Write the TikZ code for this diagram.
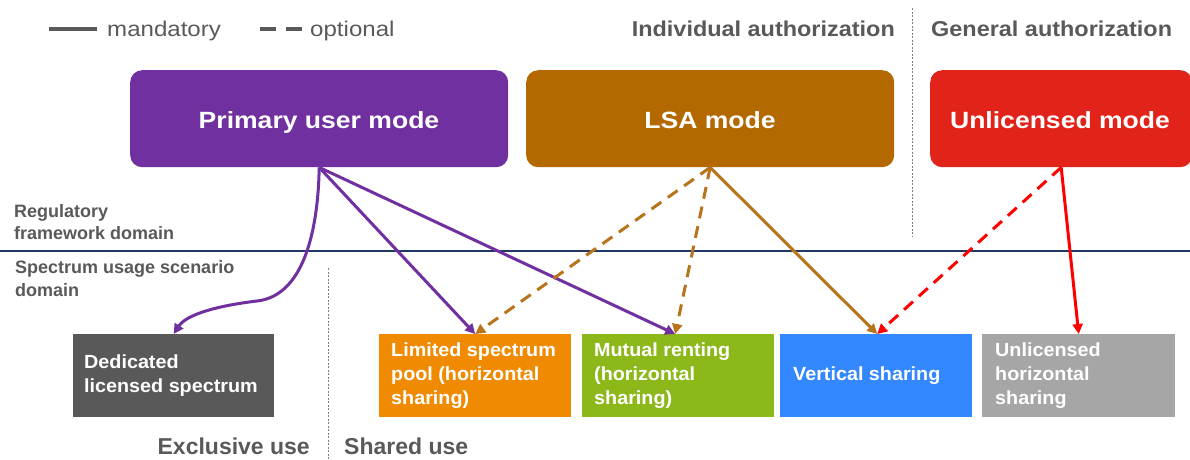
\documentclass[tikz,border=0pt]{standalone}
\usepackage{fontspec}
\setmainfont{Liberation Sans}
\newfontfamily\wideA[FakeStretch=1.13]{Liberation Sans}
\newfontfamily\wideB[FakeStretch=1.09]{Liberation Sans}
\newfontfamily\wideC[FakeStretch=1.04]{Liberation Sans}
\usetikzlibrary{arrows.meta}
\definecolor{cpurple}{HTML}{7030A0}
\definecolor{cbrown}{HTML}{B36800}
\definecolor{cbrownarr}{HTML}{B8741A}
\definecolor{cred}{HTML}{E2231A}
\definecolor{credarr}{HTML}{FF0000}
\definecolor{cdark}{HTML}{595959}
\definecolor{corange}{HTML}{F08A00}
\definecolor{cgreen}{HTML}{8CB81A}
\definecolor{cblue}{HTML}{3388FF}
\definecolor{clgray}{HTML}{A6A6A6}
\definecolor{ctext}{HTML}{595959}
\definecolor{cnavy}{HTML}{1F3864}
\tikzset{
  x=1pt, y=-1pt,
  modebox/.style={rounded corners=12pt, anchor=north west, inner sep=0pt, minimum height=97pt},
  modetext/.style={anchor=base, inner sep=0pt, text=white, font=\wideA\fontsize{23.5}{27}\selectfont\bfseries},
  scenbox/.style={anchor=north west, inner sep=0pt, minimum height=83pt},
  scentext/.style={anchor=west, align=left, text=white,
    font=\wideC\fontsize{19}{24}\selectfont\bfseries, inner sep=0pt},
  headtext/.style={anchor=base, text=ctext, font=\wideB\fontsize{21.5}{26}\selectfont\bfseries, inner sep=0pt},
  usetext/.style={anchor=base, text=ctext, font=\fontsize{23}{26}\selectfont\bfseries, inner sep=0pt},
  domtext/.style={text=ctext, font=\fontsize{18}{22}\selectfont\bfseries, inner sep=0pt, anchor=base west},
  legtext/.style={text=ctext, font=\wideA\fontsize{21.3}{24}\selectfont, inner sep=0pt, anchor=base west},
  arr/.style={line width=3pt, -{Triangle[length=10pt,width=10pt]}},
  dsh/.style={dash pattern=on 12pt off 8pt},
  divider/.style={gray, line width=1pt, dash pattern=on 2pt off 1.5pt},
}
\begin{document}
\begin{tikzpicture}
\useasboundingbox (0,0) rectangle (1190,459);
% legend
\coordinate (l1a) at (49,29); \coordinate (l1b) at (97,29);
\draw[ctext, line width=3.5pt] (l1a) -- (l1b);
\node[legtext] (lgm) at (107,36) {mandatory};
\coordinate (l2a) at (260,29); \coordinate (l2b) at (302,29);
\draw[ctext, line width=3.5pt, dash pattern=on 16pt off 10pt] (l2a) -- (l2b);
\node[legtext] (lgo) at (310,36) {optional};
% headings
\node[headtext, anchor=base east] (hind) at (895,36) {Individual authorization};
\node[headtext, anchor=base west] (hgen) at (931,36) {General authorization};
\coordinate (dv1) at (912,8); \coordinate (dv2) at (912,237);
\draw[divider] (dv1) -- (dv2);
% domain line
\coordinate (hl1) at (0,251); \coordinate (hl2) at (1190,251);
\draw[cnavy, line width=1.5pt] (hl1) -- (hl2);
\node[domtext] (reg1) at (14,217) {Regulatory};
\node[domtext] (reg2) at (14,239) {framework domain};
\node[domtext] (spe1) at (15,273) {Spectrum usage scenario};
\node[domtext] (spe2) at (15,296) {domain};
\coordinate (dv3) at (328,268); \coordinate (dv4) at (328,459);
\draw[divider] (dv3) -- (dv4);
% mode boxes
\node[modebox, fill=cpurple, minimum width=378pt] (pum) at (130,70) {};
\node[modetext] (pumt) at (319,128) {Primary user mode};
\node[modebox, fill=cbrown, minimum width=368pt] (lsa) at (526,70) {};
\node[modetext] (lsat) at (710,128) {LSA mode};
\node[modebox, fill=cred, minimum width=262pt] (unl) at (930,70) {};
\node[modetext] (unlt) at (1060,128) {Unlicensed mode};
% scenario boxes
\node[scenbox, fill=cdark, minimum width=201pt] (ded) at (73,334) {};
\node[scentext] (dedt) at ([xshift=11pt]ded.west) {Dedicated\\licensed spectrum};
\node[scenbox, fill=corange, minimum width=192pt] (lim) at (379,334) {};
\node[scentext] (limt) at ([xshift=12pt]lim.west) {Limited spectrum\\pool (horizontal\\sharing)};
\node[scenbox, fill=cgreen, minimum width=192pt] (mut) at (582,334) {};
\node[scentext] (mutt) at ([xshift=12pt]mut.west) {Mutual renting\\(horizontal\\sharing)};
\node[scenbox, fill=cblue, minimum width=192pt] (ver) at (780,334) {};
\node[scentext] (vert) at ([xshift=13pt]ver.west) {Vertical sharing};
\node[scenbox, fill=clgray, minimum width=193pt] (uhs) at (982,334) {};
\node[scentext] (uhst) at ([xshift=13pt]uhs.west) {Unlicensed\\horizontal\\sharing};
% use labels
\node[usetext, anchor=base east] (exc) at (310,454) {Exclusive use};
\node[usetext, anchor=base west] (sha) at (344,454) {Shared use};
% connectors
\draw[arr, cpurple] (pum.south) .. controls (318,235) and (302,296) .. (257,301) .. controls (215,306) and (186,315) .. (ded.north);
\draw[arr, cpurple] (pum.south) -- (lim.north);
\draw[arr, cpurple] (pum.south) -- ([xshift=-3pt]mut.north);
\draw[arr, cbrownarr, dsh] (lsa.south) -- (lim.north);
\draw[arr, cbrownarr, dsh] (lsa.south) -- ([xshift=-3pt]mut.north);
\draw[arr, cbrownarr] (lsa.south) -- ([xshift=1pt]ver.north);
\draw[arr, credarr, dsh] (unl.south) -- ([xshift=1pt]ver.north);
\draw[arr, credarr] (unl.south) -- (uhs.north);
\end{tikzpicture}
\end{document}
